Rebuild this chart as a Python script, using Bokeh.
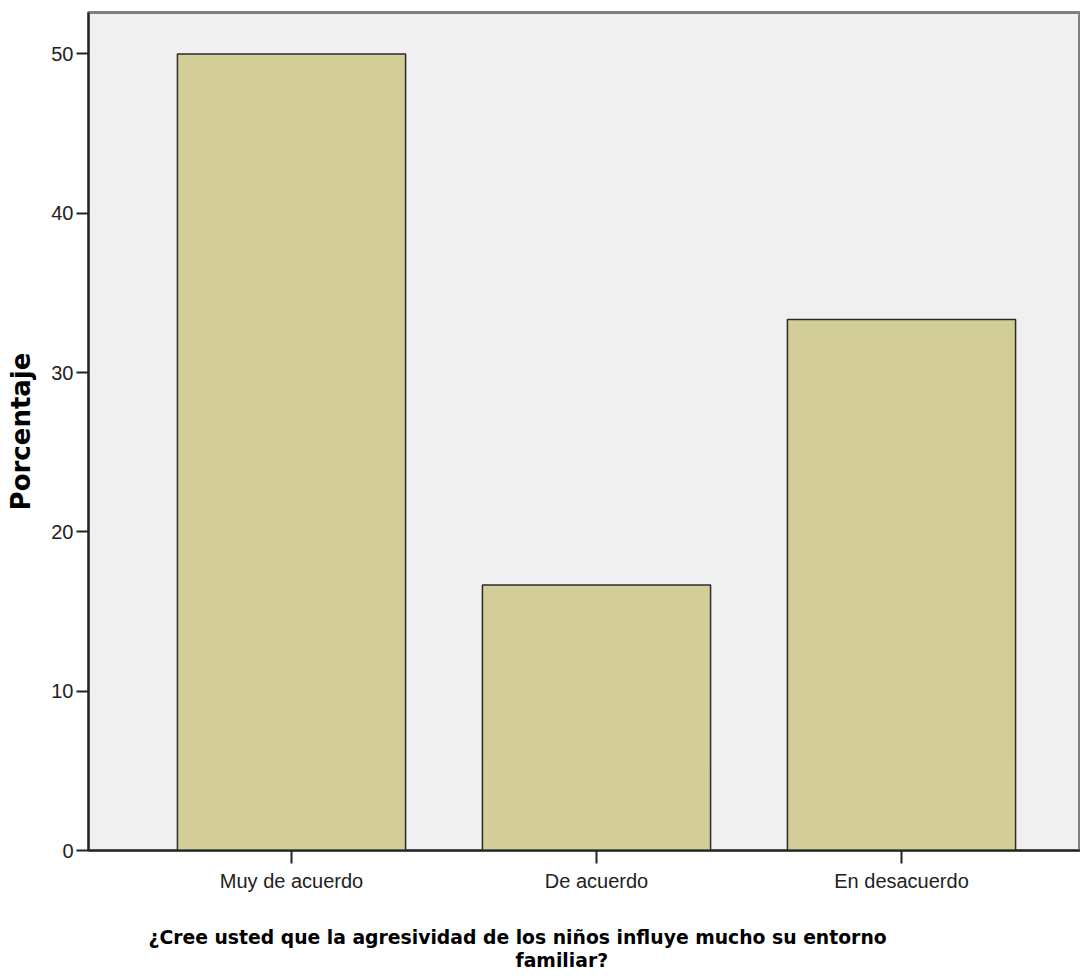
from bokeh.plotting import figure
from bokeh.models import Range1d, FixedTicker, Title, ColumnDataSource
from bokeh.embed import file_html
from bokeh.resources import INLINE

categories = ["Muy de acuerdo", "De acuerdo", "En desacuerdo"]
porcentaje = [50.0, 16.67, 33.33]
y_ticks = [0, 10, 20, 30, 40, 50]
x_title_lines = ["¿Cree usted que la agresividad de los niños influye mucho su entorno",
                 "familiar?"]
y_title = "Porcentaje"

positions = list(range(1, len(categories) + 1))
src = ColumnDataSource(dict(x=positions, top=porcentaje))

FW = 992
x0 = 0.3344
p = figure(frame_width=FW, frame_height=838,
           x_range=Range1d(x0, x0 + FW / 305.0), y_range=Range1d(0, 52.6),
           output_backend="svg", toolbar_location=None,
           min_border_left=88, min_border_right=0, min_border_top=12, min_border_bottom=0)

p.vbar(x="x", top="top", width=0.748, source=src,
       fill_color="#D3CE97", line_color="#2b2b2b", line_width=1.5)

p.background_fill_color = "#F0F0F0"
p.border_fill_color = "white"
p.outline_line_color = "#808080"
p.outline_line_width = 3
p.grid.visible = False

tick_font = "'Liberation Sans Narrow', 'Liberation Sans', Arial, sans-serif"

p.yaxis.ticker = FixedTicker(ticks=y_ticks)
p.yaxis.minor_tick_line_color = None
p.yaxis.major_tick_out = 12
p.yaxis.major_tick_in = 0
p.yaxis.major_tick_line_width = 2
p.yaxis.major_tick_line_color = "#222222"
p.yaxis.axis_line_width = 2
p.yaxis.axis_line_color = "#222222"
p.yaxis.major_label_text_font = tick_font
p.yaxis.major_label_text_font_size = "20px"
p.yaxis.major_label_text_color = "#222222"
p.yaxis.major_label_standoff = 3
p.yaxis.axis_label = y_title
p.yaxis.axis_label_text_font = "DejaVu Sans"
p.yaxis.axis_label_text_font_style = "bold"
p.yaxis.axis_label_text_font_size = "26px"
p.yaxis.axis_label_text_color = "black"
p.yaxis.axis_label_standoff = 12

p.xaxis.ticker = FixedTicker(ticks=positions)
p.xaxis.major_label_overrides = {pos: cat for pos, cat in zip(positions, categories)}
p.xaxis.minor_tick_line_color = None
p.xaxis.major_tick_out = 13
p.xaxis.major_tick_in = 0
p.xaxis.major_tick_line_width = 2
p.xaxis.major_tick_line_color = "#222222"
p.xaxis.axis_line_width = 2
p.xaxis.axis_line_color = "#222222"
p.xaxis.major_label_text_font = tick_font
p.xaxis.major_label_text_font_size = "20px"
p.xaxis.major_label_text_color = "#222222"
p.xaxis.major_label_standoff = 6

title_font = "DejaVu Sans"
spacer = Title(text=" ", align="left", standoff=0, text_font=title_font,
               text_font_size="24px", text_color="white")
t1 = Title(text=x_title_lines[0], align="left", offset=60, standoff=0,
           text_font=title_font, text_font_style="bold", text_font_size="18.8px",
           text_color="black")
t2 = Title(text=x_title_lines[1], align="left", offset=427, standoff=0,
           text_font=title_font, text_font_style="bold", text_font_size="18.8px",
           text_color="black")
p.add_layout(spacer, "below")
p.add_layout(t1, "below")
p.add_layout(t2, "below")

open("out.html", "w").write(file_html(p, INLINE))
